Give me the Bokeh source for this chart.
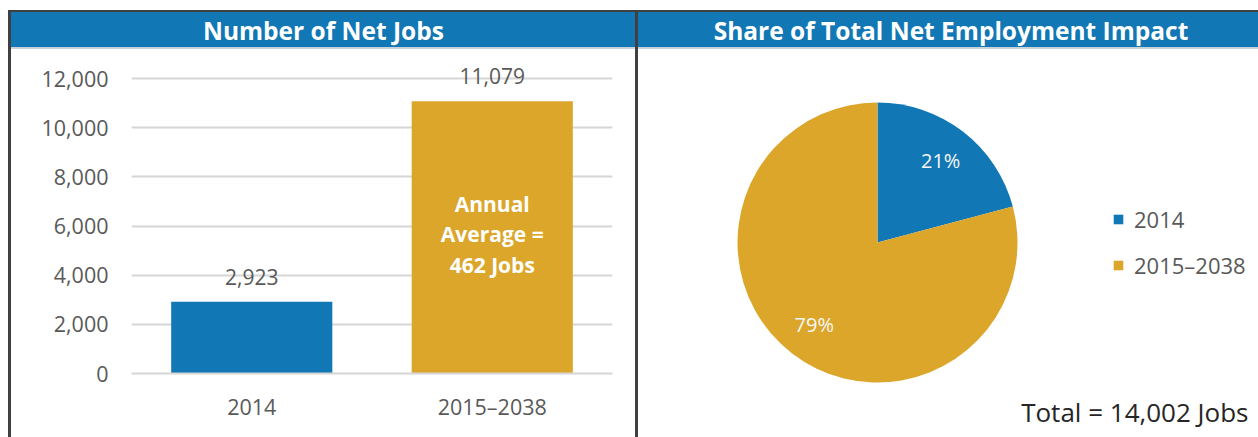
import math
from bokeh.plotting import figure
from bokeh.models import (Range1d, FactorRange, FixedTicker, NumeralTickFormatter, LabelSet, Label,
                          ColumnDataSource, Legend, LegendItem, Spacer)
from bokeh.layouts import row, column
from bokeh.embed import file_html
from bokeh.resources import INLINE
from bokeh.core.properties import value

# ---------------- data ----------------
categories = ["2014", "2015\u20132038"]
jobs = [2923, 11079]
y_ticks = [0, 2000, 4000, 6000, 8000, 10000, 12000]
note_lines = ["Annual", "Average =", "462 Jobs"]
title_left = "Number of Net Jobs"
title_right = "Share of Total Net Employment Impact"

# ---------------- styles ----------------
BLUE = "#1277b5"
GOLD = "#dba62a"
COLORS = [BLUE, GOLD]
GRAY = "#595959"
DARK = "#404040"
GRID = "#d6d6d6"
SEP = "#c9d1da"
FONT = "Open Sans"

BODY_H = 388
HEAD_H = 35


def header(text, w, x0, x1, cx, bl, br):
    h = figure(width=w, height=HEAD_H, x_range=Range1d(x0, x1), y_range=Range1d(0, 1),
               x_axis_type=None, y_axis_type=None, output_backend="svg", toolbar_location=None,
               min_border_left=bl, min_border_right=br, min_border_top=0, min_border_bottom=0,
               styles={"background-color": BLUE})
    h.grid.visible = False
    h.background_fill_color = None
    h.border_fill_color = None
    h.outline_line_color = None
    h.add_layout(Label(x=cx, y=0.5, text=text, text_align="center", text_baseline="middle",
                       text_color="white", text_font=FONT, text_font_style="bold",
                       text_font_size="24.5px"))
    return h


# ---------------- left: bar chart ----------------
src = ColumnDataSource(dict(cat=categories, jobs=jobs, color=COLORS,
                            label=[f"{v:,}" for v in jobs]))
p1 = figure(width=624, height=BODY_H, x_range=FactorRange(*categories, range_padding=0),
            y_range=Range1d(0, 13180), output_backend="svg", toolbar_location=None,
            min_border_left=120, min_border_right=23, min_border_top=0,
            min_border_bottom=BODY_H - 324)
p1.vbar(x="cat", top="jobs", width=0.67, color="color", line_color=None, source=src)
p1.outline_line_color = None
p1.xgrid.visible = False
p1.ygrid.grid_line_color = GRID
p1.ygrid.grid_line_width = 2
p1.yaxis.ticker = FixedTicker(ticks=y_ticks)
p1.yaxis.formatter = NumeralTickFormatter(format="0,0")
p1.yaxis.axis_line_color = None
p1.yaxis.major_tick_line_color = None
p1.yaxis.minor_tick_line_color = None
p1.yaxis.major_label_standoff = 17
p1.xaxis.axis_line_color = GRID
p1.xaxis.axis_line_width = 2
p1.xaxis.major_tick_line_color = None
p1.xaxis.major_label_standoff = 12
for ax in (p1.xaxis, p1.yaxis):
    ax.major_label_text_font = FONT
    ax.major_label_text_font_size = "21.5px"
    ax.major_label_text_color = GRAY
p1.add_layout(LabelSet(x="cat", y="jobs", text="label", source=src, y_offset=25,
                       text_align="center", text_baseline="middle", text_color=GRAY,
                       text_font=value(FONT), text_font_size="21px"))
note_src = ColumnDataSource(dict(x=[categories[1]] * 3, y=[jobs[1] / 2] * 3, t=note_lines,
                                 off=[33.5, 3, -27.5]))
p1.add_layout(LabelSet(x="x", y="y", text="t", y_offset="off", source=note_src,
                       text_align="center", text_baseline="middle", text_color="white",
                       text_font=value(FONT), text_font_style="bold", text_font_size="21px"))

# ---------------- right: pie chart ----------------
total = sum(jobs)
shares = [v / total for v in jobs]
starts, ends, lx, ly, pct = [], [], [], [], []
cum = 0.0
CX, CY, R = 239, BODY_H - 193, 140
for s in shares:
    a0 = math.pi / 2 - 2 * math.pi * cum
    a1 = math.pi / 2 - 2 * math.pi * (cum + s)
    starts.append(a0)
    ends.append(a1)
    mid = (a0 + a1) / 2
    lx.append(CX + 0.74 * R * math.cos(mid))
    ly.append(CY + 0.74 * R * math.sin(mid))
    pct.append(f"{round(s * 100)}%")
    cum += s
psrc = ColumnDataSource(dict(cat=categories, start=starts, end=ends, color=COLORS,
                             lx=lx, ly=ly, pct=pct))

p2 = figure(width=620, height=BODY_H, x_range=Range1d(0, 620), y_range=Range1d(0, BODY_H),
            x_axis_type=None, y_axis_type=None, output_backend="svg", toolbar_location=None,
            min_border=0)
p2.grid.visible = False
p2.outline_line_color = None
wr = p2.wedge(x=CX, y=CY, radius=R, start_angle="start", end_angle="end", direction="clock",
              fill_color="color", line_color=None, source=psrc)
p2.add_layout(LabelSet(x="lx", y="ly", text="pct", source=psrc, text_align="center",
                       text_baseline="middle", text_color="#f7f7f7", text_font=value(FONT),
                       text_font_size="20px"))
legend = Legend(items=[LegendItem(label=c, renderers=[wr], index=i) for i, c in enumerate(categories)],
                location=(474, BODY_H - 231), padding=0, margin=0, spacing=16, glyph_width=12,
                glyph_height=12, label_standoff=10, label_text_font=FONT,
                label_text_font_size="22px", label_text_color=GRAY,
                border_line_color=None, background_fill_alpha=0)
p2.add_layout(legend)
p2.add_layout(Label(x=610, y=BODY_H - 362, text=f"Total = {total:,} Jobs", text_align="right",
                    text_baseline="middle", text_color="#262626", text_font=FONT,
                    text_font_size="26px"))

# ---------------- layout ----------------
h1 = header(title_left, 624, 120, 601, 312, 120, 23)
h2 = header(title_right, 620, 0, 620, 312.5, 0, 0)
COL_H = HEAD_H + 2 + BODY_H
top_gap = Spacer(width=1258, height=10)
top_line = row(Spacer(width=8, height=2), Spacer(width=1250, height=2, styles={"background-color": DARK}))
left_pad = Spacer(width=8, height=COL_H)
left_line = Spacer(width=3, height=COL_H, styles={"background-color": DARK})
mid_line = Spacer(width=3, height=COL_H, styles={"background-color": DARK})
sep1 = Spacer(width=624, height=2, styles={"background-color": SEP})
sep2 = Spacer(width=620, height=2, styles={"background-color": SEP})
layout = column(top_gap, top_line,
                row(left_pad, left_line, column(h1, sep1, p1), mid_line, column(h2, sep2, p2)))

open("out.html", "w").write(file_html(layout, INLINE))
